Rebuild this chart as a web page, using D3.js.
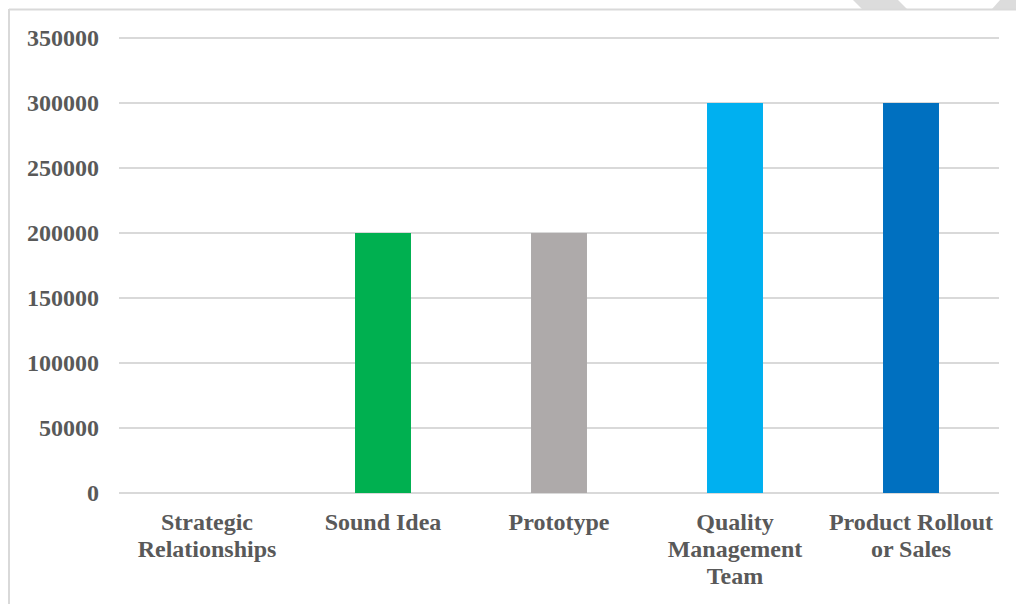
<!DOCTYPE html>
<html><head><meta charset="utf-8">
<script src="https://cdn.jsdelivr.net/npm/d3@7"></script>
<style>body{margin:0;background:#fff}svg{display:block}</style>
</head><body><svg id="c" width="1016" height="604"></svg>
<script>
const categories = ["Strategic Relationships", "Sound Idea", "Prototype", "Quality Management Team", "Product Rollout or Sales"];
const labelLines = [["Strategic","Relationships"],["Sound Idea"],["Prototype"],["Quality","Management","Team"],["Product Rollout","or Sales"]];
const values = [0, 200000, 200000, 300000, 300000];
const colors = ["#4472c4", "#00b050", "#aeaaaa", "#00b0f0", "#0070c0"];
const yTicks = [0, 50000, 100000, 150000, 200000, 250000, 300000, 350000];

const svg = d3.select("#c");
const font = "'Liberation Serif','Times New Roman',serif";

// decorative stripes above the frame
svg.append("polygon").attr("points","853,0 898,0 907,9 862,9").attr("fill","#dcdcdc");
svg.append("polygon").attr("points","1000,0 1016,0 1016,9 992,9").attr("fill","#dcdcdc");
// frame
svg.append("line").attr("x1",9).attr("x2",1016).attr("y1",9.5).attr("y2",9.5).attr("stroke","#d9d9d9").attr("stroke-width",2);
svg.append("line").attr("x1",9).attr("x2",9).attr("y1",9).attr("y2",604).attr("stroke","#d9d9d9").attr("stroke-width",2);

const x = d3.scaleBand().domain(categories).range([119, 999]).paddingInner(0.682).paddingOuter(0.341);
const y = d3.scaleLinear().domain([0, 350000]).range([493, 38]);

// gridlines
svg.append("g").selectAll("line").data(yTicks).join("line")
  .attr("x1",119).attr("x2",999)
  .attr("y1",d=>y(d)).attr("y2",d=>y(d))
  .attr("stroke","#d9d9d9").attr("stroke-width",2);

// y labels
svg.append("g").selectAll("text").data(yTicks).join("text")
  .attr("x",99).attr("y",d=>y(d)).attr("dy","0.35em")
  .attr("text-anchor","end").attr("font-family",font).attr("font-weight","bold")
  .attr("font-size",24).attr("fill","#595959").text(d=>d);

// bars
svg.append("g").selectAll("rect").data(values).join("rect")
  .attr("x",(d,i)=>x(categories[i])).attr("width",x.bandwidth())
  .attr("y",d=>y(d)).attr("height",d=>y(0)-y(d))
  .attr("fill",(d,i)=>colors[i]);

// x labels
const xl = svg.append("g").selectAll("text").data(categories).join("text")
  .attr("x",d=>x(d)+x.bandwidth()/2).attr("y",530)
  .attr("text-anchor","middle").attr("font-family",font).attr("font-weight","bold")
  .attr("font-size",24).attr("fill","#595959");
xl.each(function(d,i){
  d3.select(this).selectAll("tspan").data(labelLines[i]).join("tspan")
    .attr("x",x(d)+x.bandwidth()/2).attr("dy",(t,j)=>j===0?0:27).text(t=>t);
});
</script></body></html>
